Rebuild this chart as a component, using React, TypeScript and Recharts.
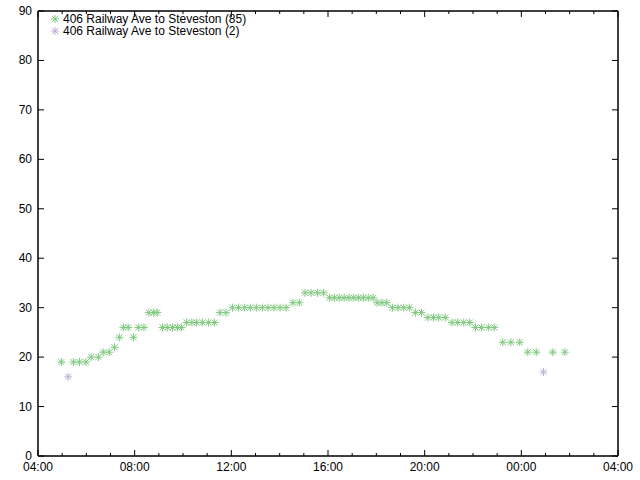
import React from 'react';
import { ScatterChart, Scatter, XAxis, YAxis, ReferenceArea } from 'recharts';

// departure times (clock) and trip minutes
const mainTimes = [
  '04:58', '05:28', '05:43', '05:59', '06:12', '06:30', '06:42', '06:57', '07:10', '07:22',
  '07:32', '07:44', '07:57', '08:09', '08:23', '08:35', '08:47', '08:56', '09:09', '09:21',
  '09:34', '09:46', '09:56', '10:09', '10:22', '10:34', '10:48', '11:03', '11:18', '11:32',
  '11:47', '12:03', '12:18', '12:33', '12:47', '13:02', '13:17', '13:31', '13:46', '14:01',
  '14:16', '14:33', '14:49', '15:03', '15:18', '15:34', '15:49', '16:04', '16:16', '16:28',
  '16:40', '16:52', '17:04', '17:16', '17:28', '17:40', '17:52', '18:02', '18:14', '18:26',
  '18:40', '18:54', '19:08', '19:22', '19:37', '19:52', '20:08', '20:22', '20:35', '20:51',
  '21:08', '21:22', '21:37', '21:52', '22:06', '22:21', '22:39', '22:53', '23:14', '23:34',
  '23:56', '00:16', '00:37', '01:18', '01:48',
];
const mainValues = [
  19, 19, 19, 19, 20, 20, 21, 21, 22, 24,
  26, 26, 24, 26, 26, 29, 29, 29, 26, 26,
  26, 26, 26, 27, 27, 27, 27, 27, 27, 29,
  29, 30, 30, 30, 30, 30, 30, 30, 30, 30,
  30, 31, 31, 33, 33, 33, 33, 32, 32, 32,
  32, 32, 32, 32, 32, 32, 32, 31, 31, 31,
  30, 30, 30, 30, 29, 29, 28, 28, 28, 28,
  27, 27, 27, 27, 26, 26, 26, 26, 23, 23,
  23, 21, 21, 21, 21,
];
const extraTimes = ['05:15', '00:55'];
const extraValues = [16, 17];

const hourTicks = [4, 5, 6, 7, 8, 9, 10, 11, 12, 13, 14, 15, 16, 17, 18, 19, 20, 21, 22, 23, 24, 25, 26, 27, 28];
const yTicks = [0, 10, 20, 30, 40, 50, 60, 70, 80, 90];

const GREEN = '#7fc97f';
const PURPLE = '#beaed4';
const FONT = '"Liberation Sans", Arial, sans-serif';

// clock time -> hours on a 04:00..04:00 axis
const toHours = (t: string) => {
  const [h, m] = t.split(':').map(Number);
  const v = h + m / 60;
  return v < 4 ? v + 24 : v;
};

const mainData = mainTimes.map((t, i) => ({ x: toHours(t), y: mainValues[i] }));
const extraData = extraTimes.map((t, i) => ({ x: toHours(t), y: extraValues[i] }));

const series = [
  { name: '406 Railway Ave to Steveston (85)', color: GREEN },
  { name: '406 Railway Ave to Steveston (2)', color: PURPLE },
];

const starPath = (cx: number, cy: number) =>
  `M${cx - 4},${cy}h8M${cx},${cy - 4}v8M${cx - 3},${cy - 3}l6,6M${cx - 3},${cy + 3}l6,-6`;

const Star = (props: any) => {
  const { cx, cy, fill } = props;
  if (cx == null || cy == null) return null;
  return <path d={starPath(cx, cy)} stroke={fill} strokeWidth={1} fill="none" />;
};

const fmtHour = (v: number) => `${String(v % 24).padStart(2, '0')}:00`;

const BottomTick = (props: any) => {
  const { x, y, payload } = props;
  const major = payload.value % 4 === 0;
  return (
    <g>
      <line x1={x} x2={x} y1={y} y2={y - (major ? 6 : 3)} stroke="#000" strokeWidth={1} />
      {major && (
        <text x={x} y={y + 15} textAnchor="middle" fontSize={12} fontFamily={FONT} fill="#000">
          {fmtHour(payload.value)}
        </text>
      )}
    </g>
  );
};

const TopTick = (props: any) => {
  const { x, y, payload } = props;
  const major = payload.value % 4 === 0;
  return <line x1={x} x2={x} y1={y} y2={y + (major ? 6 : 3)} stroke="#000" strokeWidth={1} />;
};

const LeftTick = (props: any) => {
  const { x, y, payload } = props;
  return (
    <g>
      <line x1={x} x2={x + 6} y1={y} y2={y} stroke="#000" strokeWidth={1} />
      <text x={x - 6} y={y + 4} textAnchor="end" fontSize={12} fontFamily={FONT} fill="#000">
        {payload.value}
      </text>
    </g>
  );
};

const RightTick = (props: any) => {
  const { x, y } = props;
  return <line x1={x} x2={x - 6} y1={y} y2={y} stroke="#000" strokeWidth={1} />;
};

export default function App() {
  return (
    <div style={{ position: 'relative', width: 640, height: 480, background: '#fff' }}>
      <style>{'body{margin:0}'}</style>
      <ScatterChart width={640} height={480} margin={{ top: 0, right: 0, bottom: 0, left: 0 }}>
        <XAxis xAxisId="bottom" type="number" dataKey="x" domain={[4, 28]} ticks={hourTicks} interval={0} height={24} stroke="#000" tickSize={0} tickMargin={0} tickLine={false} tick={<BottomTick />} />
        <XAxis xAxisId="top" orientation="top" type="number" dataKey="x" domain={[4, 28]} ticks={hourTicks} interval={0} height={11} stroke="#000" tickSize={0} tickMargin={0} tickLine={false} tick={<TopTick />} />
        <YAxis yAxisId="left" type="number" dataKey="y" domain={[0, 90]} ticks={yTicks} interval={0} width={38} stroke="#000" tickSize={0} tickMargin={0} tickLine={false} tick={<LeftTick />} />
        <YAxis yAxisId="right" orientation="right" type="number" dataKey="y" domain={[0, 90]} ticks={yTicks} interval={0} width={22} stroke="#000" tickSize={0} tickMargin={0} tickLine={false} tick={<RightTick />} />
        {/* plot frame, in case the mirrored axes' lines are faint */}
        <ReferenceArea
          xAxisId="bottom"
          yAxisId="left"
          x1={4}
          x2={28}
          y1={0}
          y2={90}
          fill="none"
          fillOpacity={0}
          stroke="#000"
          strokeWidth={1}
          ifOverflow="visible"
        />
        <Scatter
          name={series[0].name}
          data={mainData}
          xAxisId="bottom"
          yAxisId="left"
          fill={GREEN}
          shape={<Star />}
          isAnimationActive={false}
        />
        <Scatter
          name={series[1].name}
          data={extraData}
          xAxisId="top"
          yAxisId="right"
          fill={PURPLE}
          shape={<Star />}
          isAnimationActive={false}
        />
      </ScatterChart>
      <div
        style={{
          position: 'absolute',
          left: 50,
          top: 13,
          fontFamily: FONT,
          fontSize: 12,
          lineHeight: '12px',
        }}
      >
        {series.map((s) => (
          <div key={s.name} style={{ display: 'flex', alignItems: 'center', height: 12 }}>
            <svg width={12} height={12} style={{ marginRight: 1 }}>
              <path d={starPath(5, 6)} stroke={s.color} fill="none" />
            </svg>
            <span>{s.name}</span>
          </div>
        ))}
      </div>
    </div>
  );
}
